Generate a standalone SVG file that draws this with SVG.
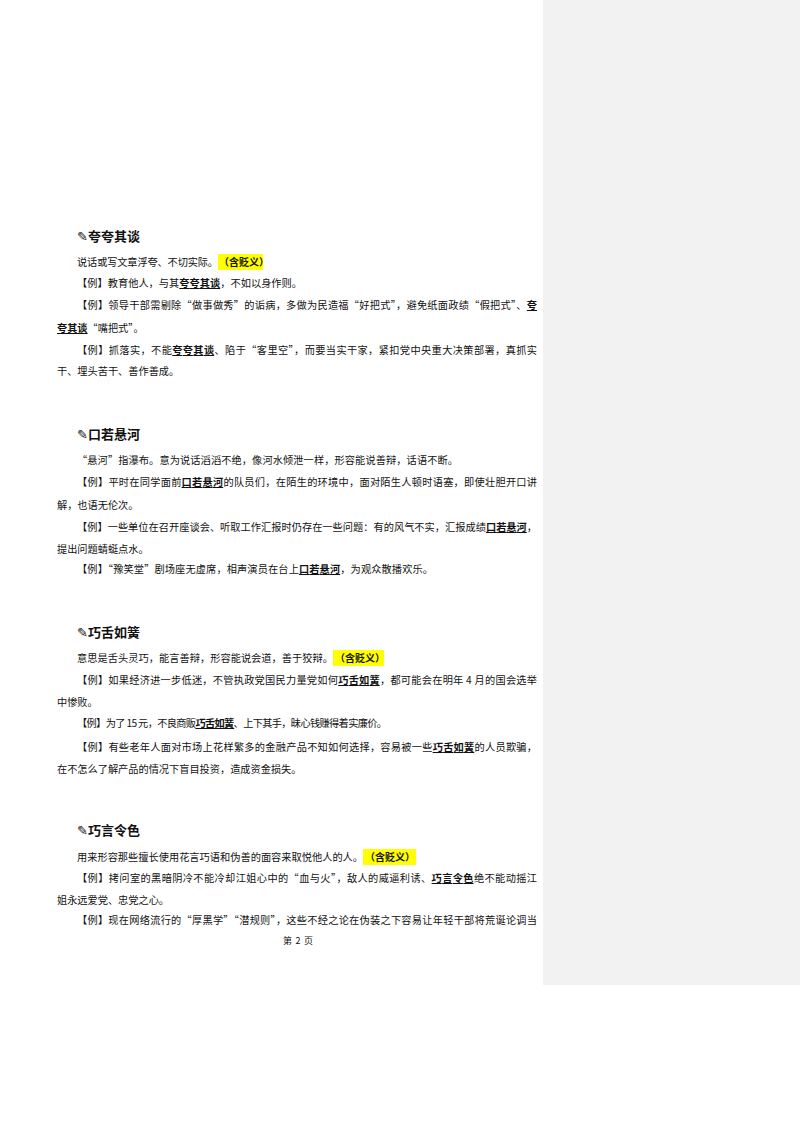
<svg xmlns="http://www.w3.org/2000/svg" width="800" height="1132" viewBox="0 0 800 1132">
<style>
text{font-family:"Noto Sans CJK SC","DejaVu Sans",sans-serif;font-size:10.2px;fill:#111}
.h{font-size:13px;font-weight:bold}
.b{font-weight:bold;text-decoration:underline}
.hl{fill:#ffff00}
.s{font-size:10px;font-weight:bold}
</style>
<rect width="800" height="1132" fill="#fff"/>
<rect x="543" y="0" width="257" height="985" fill="#f2f2f2"/>
<g id="sec1">
<text class="h" x="77" y="241"><tspan font-family="DejaVu Sans">✎</tspan>夸夸其谈</text>
<text x="77" y="266" textLength="141" lengthAdjust="spacing">说话或写文章浮夸、不切实际。</text>
<rect class="hl" x="218" y="254" width="45" height="16"/><text class="s" x="219" y="266">（含贬义）</text>
<text x="77" y="287" textLength="225" lengthAdjust="spacing">【例】教育他人，与其<tspan class="b">夸夸其谈</tspan>，不如以身作则。</text>
<text x="77" y="309" textLength="460" lengthAdjust="spacing">【例】领导干部需剔除“做事做秀”的诟病，多做为民造福“好把式”，避免纸面政绩“假把式”、<tspan class="b">夸</tspan></text>
<text x="57" y="332"><tspan class="b">夸其谈</tspan>“嘴把式”。</text>
<text x="77" y="354" textLength="460" lengthAdjust="spacing">【例】抓落实，不能<tspan class="b">夸夸其谈</tspan>、陷于“客里空”，而要当实干家，紧扣党中央重大决策部署，真抓实</text>
<text x="57" y="375">干、埋头苦干、善作善成。</text>
</g>
<g id="sec2">
<text class="h" x="77" y="439"><tspan font-family="DejaVu Sans">✎</tspan>口若悬河</text>
<text x="77" y="464" textLength="381" lengthAdjust="spacing">“悬河”指瀑布。意为说话滔滔不绝，像河水倾泄一样，形容能说善辩，话语不断。</text>
<text x="77" y="486" textLength="460" lengthAdjust="spacing">【例】平时在同学面前<tspan class="b">口若悬河</tspan>的队员们，在陌生的环境中，面对陌生人顿时语塞，即使壮胆开口讲</text>
<text x="57" y="509">解，也语无伦次。</text>
<text x="77" y="531" textLength="460" lengthAdjust="spacing">【例】一些单位在召开座谈会、听取工作汇报时仍存在一些问题：有的风气不实，汇报成绩<tspan class="b">口若悬河</tspan>，</text>
<text x="57" y="553">提出问题蜻蜓点水。</text>
<text x="77" y="573" textLength="356" lengthAdjust="spacing">【例】“豫笑堂”剧场座无虚席，相声演员在台上<tspan class="b">口若悬河</tspan>，为观众散播欢乐。</text>
</g>
<g id="sec3">
<text class="h" x="77" y="637"><tspan font-family="DejaVu Sans">✎</tspan>巧舌如簧</text>
<text x="77" y="662" textLength="256" lengthAdjust="spacing">意思是舌头灵巧，能言善辩，形容能说会道，善于狡辩。</text>
<rect class="hl" x="333" y="650" width="51" height="16"/><text class="s" x="335" y="662">（含贬义）</text>
<text x="77" y="684" textLength="460" lengthAdjust="spacing">【例】如果经济进一步低迷，不管执政党国民力量党如何<tspan class="b">巧舌如簧</tspan>，都可能会在明年 4 月的国会选举</text>
<text x="57" y="706">中惨败。</text>
<text x="77" y="727" textLength="310" lengthAdjust="spacing">【例】为了 15 元，不良商贩<tspan class="b">巧舌如簧</tspan>、上下其手，昧心钱赚得着实廉价。</text>
<text x="77" y="751" textLength="460" lengthAdjust="spacing">【例】有些老年人面对市场上花样繁多的金融产品不知如何选择，容易被一些<tspan class="b">巧舌如簧</tspan>的人员欺骗，</text>
<text x="57" y="773">在不怎么了解产品的情况下盲目投资，造成资金损失。</text>
</g>
<g id="sec4">
<text class="h" x="77" y="835"><tspan font-family="DejaVu Sans">✎</tspan>巧言令色</text>
<text x="77" y="861" textLength="286" lengthAdjust="spacing">用来形容那些擅长使用花言巧语和伪善的面容来取悦他人的人。</text>
<rect class="hl" x="363" y="849" width="53" height="16"/><text class="s" x="365" y="861">（含贬义）</text>
<text x="77" y="882" textLength="460" lengthAdjust="spacing">【例】拷问室的黑暗阴冷不能冷却江姐心中的“血与火”，敌人的威逼利诱、<tspan class="b">巧言令色</tspan>绝不能动摇江</text>
<text x="57" y="904">姐永远爱党、忠党之心。</text>
<text x="77" y="924" textLength="460" lengthAdjust="spacing">【例】现在网络流行的“厚黑学”“潜规则”，这些不经之论在伪装之下容易让年轻干部将荒诞论调当</text>
<text x="283" y="944" style="font-size:9px" textLength="30" lengthAdjust="spacing">第 2 页</text>
</g>
</svg>
